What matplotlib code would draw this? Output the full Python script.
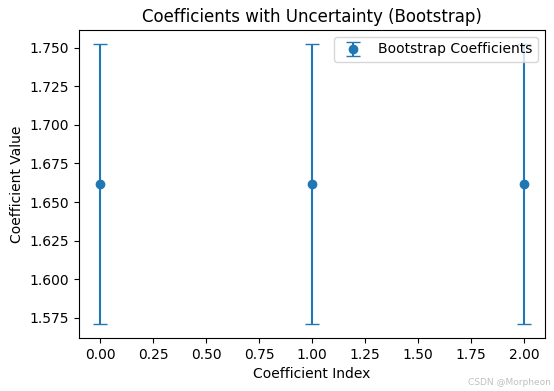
import matplotlib
matplotlib.use("Agg")
import matplotlib.pyplot as plt
import numpy as np

coef_index = [0, 1, 2]
coef_values = [1.6617, 1.6617, 1.6617]
coef_errors = [0.0907, 0.0907, 0.0907]

fig = plt.figure(figsize=(5.54, 3.91), dpi=100)
ax = fig.add_axes([78.8/554, 53/391, (545.2-78.8)/554, (338-30)/391])
ax.errorbar(coef_index, coef_values, yerr=coef_errors, fmt='o', capsize=5,
            label='Bootstrap Coefficients')
ax.set_xlabel('Coefficient Index')
ax.set_ylabel('Coefficient Value')
ax.set_title('Coefficients with Uncertainty (Bootstrap)')
ax.legend(loc='upper right')
fig.text(0.995, 0.01, 'CSDN @Morpheon', ha='right', va='bottom', fontsize=6.5, color='#c0c0c0')
fig.savefig('out.png', dpi=100)
